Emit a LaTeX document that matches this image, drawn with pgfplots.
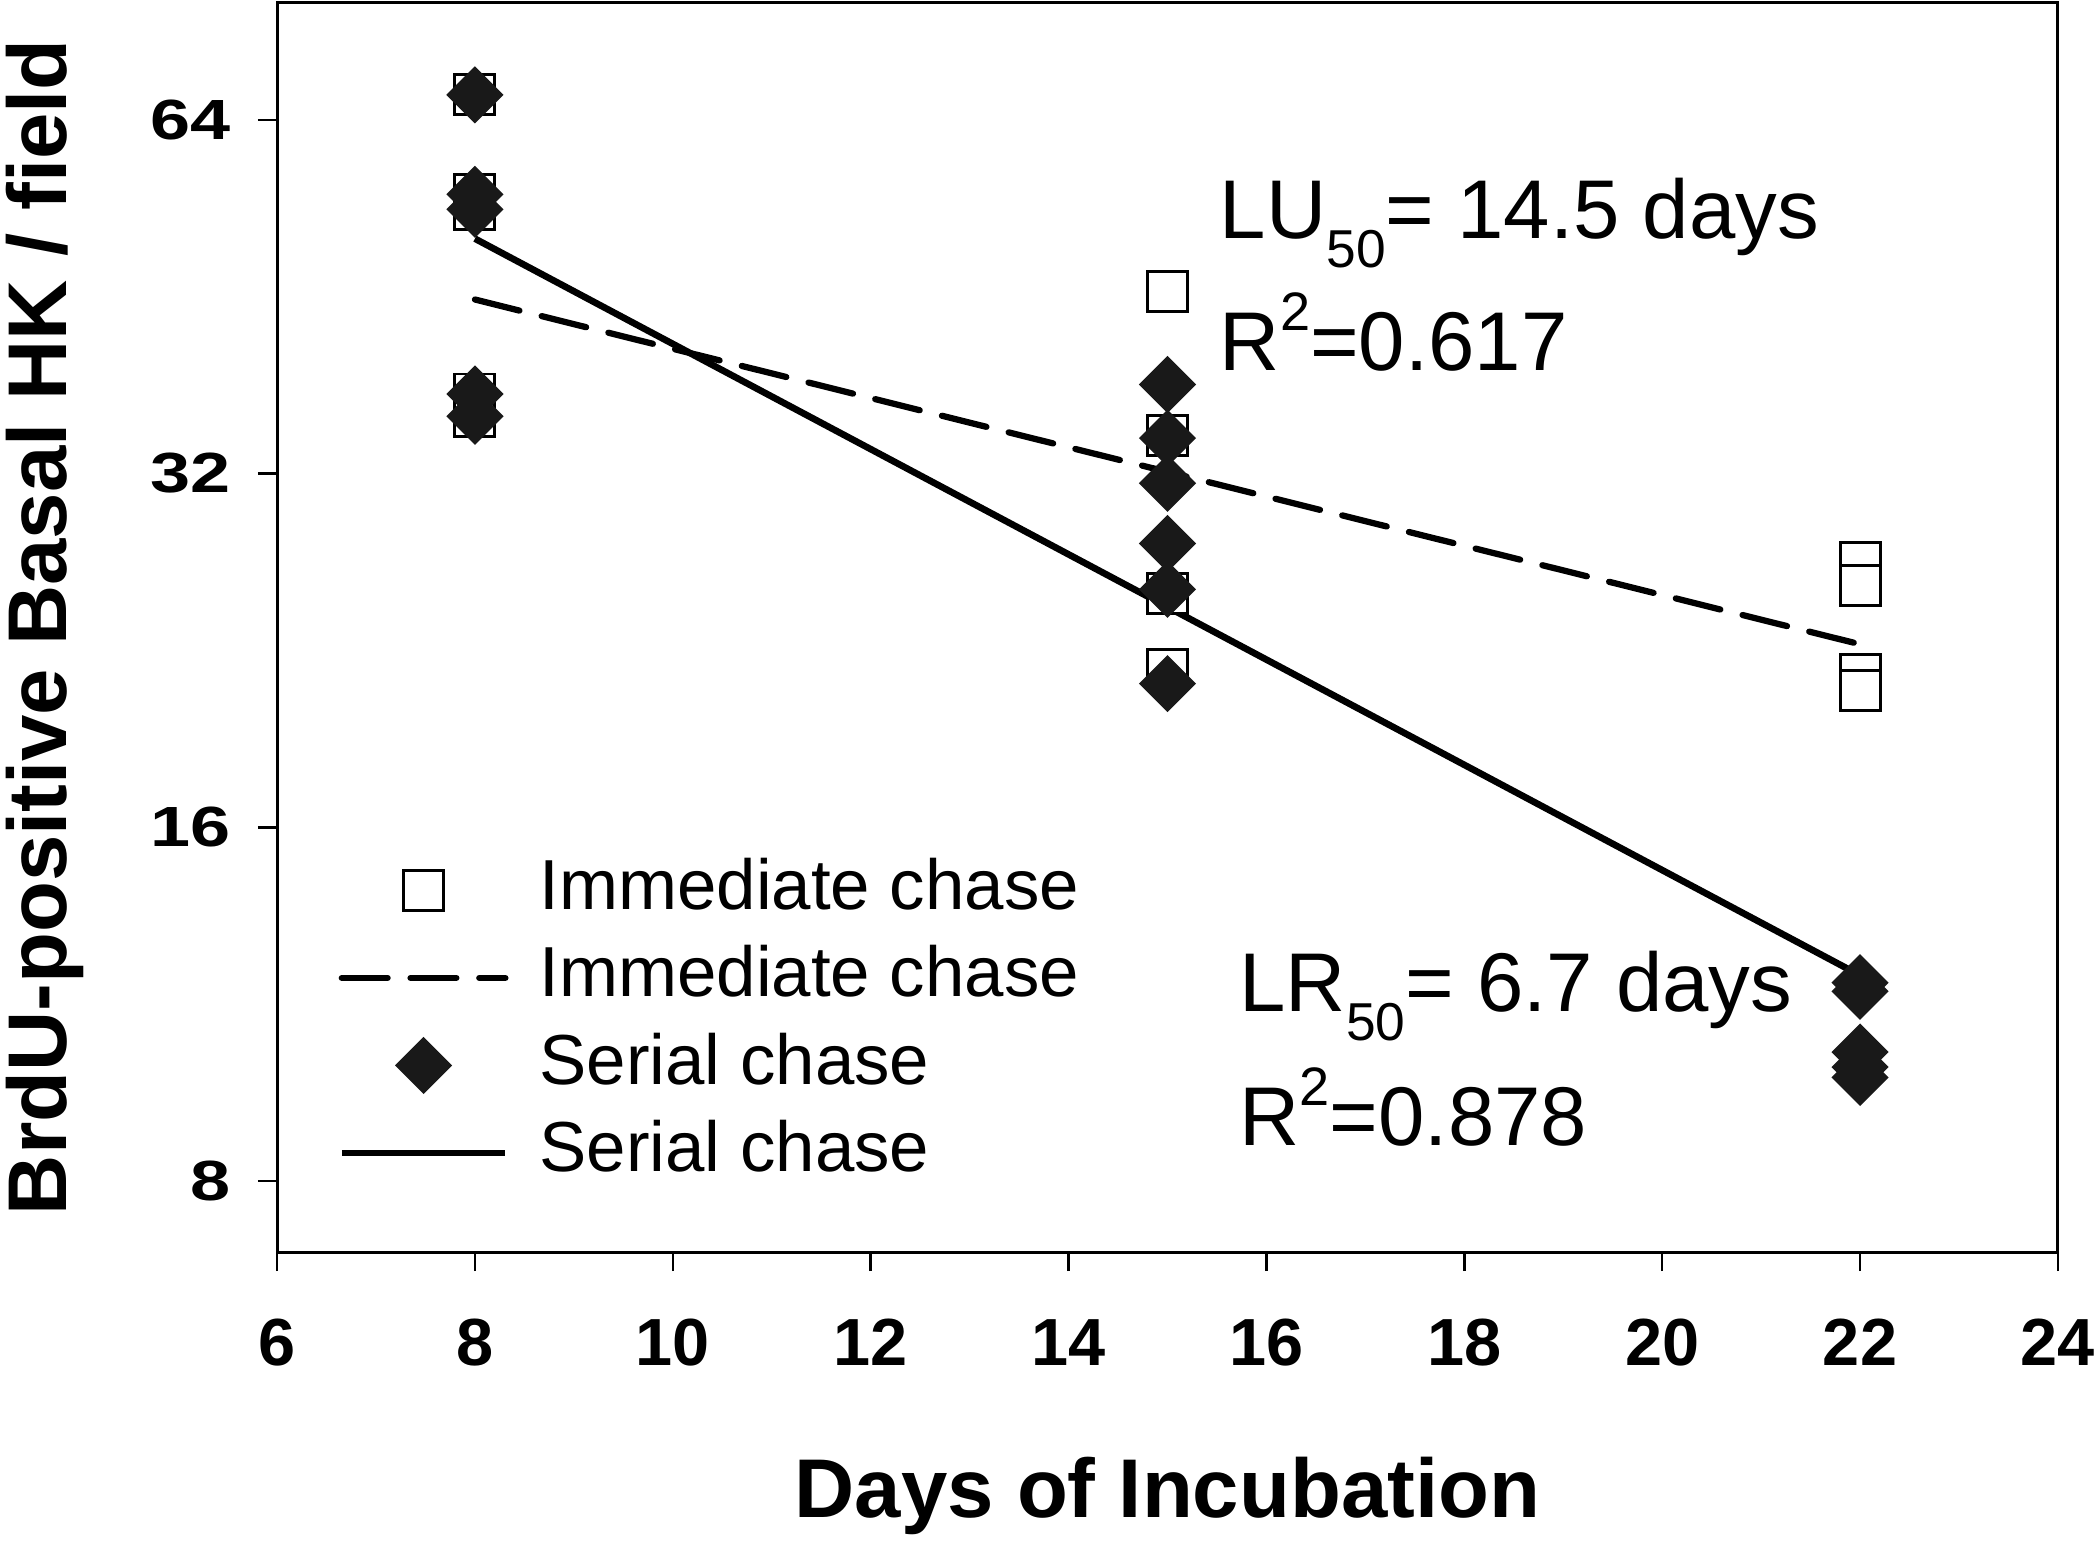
\documentclass[border=0pt]{standalone}
\usepackage{fontspec}
\setmainfont{Liberation Sans}
\usepackage{graphicx}
\usepackage{pgfplots}
\pgfplotsset{compat=1.18}
\usetikzlibrary{calc}

\newcommand{\sub}[1]{\raisebox{-7pt}{\fontsize{12.8}{12.8}\selectfont #1}}
\newcommand{\super}[1]{\raisebox{9.6pt}{\fontsize{13}{13}\selectfont #1}}
\newcommand{\yt}[1]{\scalebox{1.08}[0.85]{#1}}

\begin{document}
\begin{tikzpicture}
\begin{axis}[
  name=ax,
  scale only axis,
  width=427.4pt, height=300pt,
  xmin=6, xmax=24,
  ymode=log, log basis y=2,
  ymin=6.96, ymax=80.6,
  xtick={6,8,...,24},
  ytick={8,16,32,64},
  yticklabels={\yt{8},\yt{16},\yt{32},\yt{64}},
  tick align=outside,
  major tick length=4.6pt,
  xtick pos=bottom, ytick pos=left,
  minor tick num=0,
  axis line style={line width=0.7pt},
  tick style={line width=0.6pt, black},
  /pgf/number format/assume math mode=true,
  xticklabel style={font=\fontsize{16}{16}\selectfont\bfseries, yshift=-8pt},
  yticklabel style={font=\fontsize{16}{16}\selectfont\bfseries, xshift=-3pt},
  xlabel={Days of Incubation},
  ylabel={BrdU-positive Basal HK / field},
  every axis x label/.style={at={(axis description cs:0.5,-0.1952)}, anchor=center, font=\fontsize{20}{20}\selectfont\bfseries},
  every axis y label/.style={at={(axis description cs:-0.1305,0.5)}, rotate=90, anchor=center, font=\fontsize{20}{20}\selectfont\bfseries},
  legend cell align=left,
  legend style={draw=none, fill=none, at={(axis description cs:0.034,0.315)}, anchor=north west,
    font=\fontsize{17}{17}\selectfont, inner sep=0pt, row sep=6pt, column sep=7.4pt,
    nodes={inner sep=0pt, text height=12pt, text depth=3pt}},
  legend image code/.code={\draw[mark repeat=2,mark phase=2,#1] plot coordinates {(0cm,0cm) (0.69cm,0cm) (1.38cm,0cm)};},
]
% Immediate chase (squares)
\addplot[only marks, mark=square*, mark size=4.8pt, mark options={fill=white, draw=black, line width=0.7pt}]
  coordinates {
  (8,67.2) (8,55.3) (8,53.7) (8,37.4) (8,35.8)
  (15,45.7) (15,34.5) (15,25.3) (15,21.8)
  (22,26.9) (22,25.7) (22,21.6) (22,20.9)
  };
\addlegendentry{Immediate chase}
% Immediate chase regression (dashed)
\addplot[black, line width=1.5pt, dash pattern=on 11pt off 5.5pt, line cap=round]
  coordinates {(8,45.0) (22,22.9)};
\addlegendentry{Immediate chase}
% Serial chase (diamonds)
\addplot[only marks, mark=square*, mark size=4.65pt, mark options={rotate=45, fill=black!90, draw=black!90, line width=0.4pt}]
  coordinates {
  (8,67.2) (8,55.3) (8,53.7) (8,37.4) (8,35.8)
  (15,38.1) (15,34.3) (15,31.4) (15,27.9) (15,25.5) (15,21.2)
  (22,11.8) (22,11.6) (22,10.3) (22,10.0) (22,9.8)
  };
\addlegendentry{Serial chase}
% Serial chase regression (solid)
\addplot[black, line width=1.6pt]
  coordinates {(8,50.7) (22,11.97)};
\addlegendentry{Serial chase}

\node[anchor=base west, inner sep=0pt, font=\fontsize{20}{20}\selectfont] at (axis description cs:0.529,0.811) {LU\sub{50}= 14.5 days};
\node[anchor=base west, inner sep=0pt, font=\fontsize{20}{20}\selectfont] at (axis description cs:0.529,0.7056) {R\super{2}=0.617};
\node[anchor=base west, inner sep=0pt, font=\fontsize{20}{20}\selectfont] at (axis description cs:0.540,0.1928) {LR\sub{50}= 6.7 days};
\node[anchor=base west, inner sep=0pt, font=\fontsize{20}{20}\selectfont] at (axis description cs:0.540,0.0856) {R\super{2}=0.878};
\end{axis}
\pgfresetboundingbox
\path[use as bounding box] ($(ax.south west)+(-66.5pt,-70.6pt)$) rectangle ($(ax.north east)+(10.1pt,0.5pt)$);
\end{tikzpicture}
\end{document}
